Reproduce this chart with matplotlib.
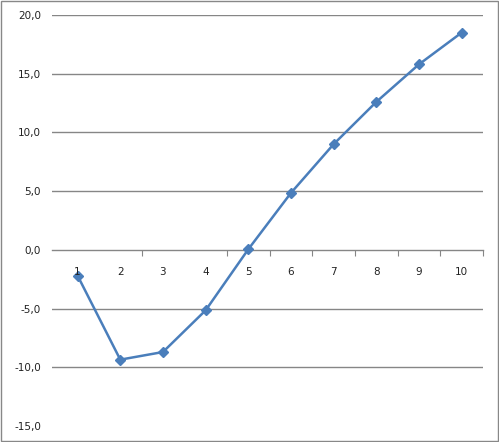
import matplotlib.pyplot as plt
from matplotlib.patches import Rectangle
from matplotlib.ticker import FixedLocator, FuncFormatter

# data
categories = ['1', '2', '3', '4', '5', '6', '7', '8', '9', '10']
values = [-2.2, -9.35, -8.7, -5.15, 0.05, 4.85, 9.0, 12.6, 15.8, 18.5]
y_ticks = [-15, -10, -5, 0, 5, 10, 15, 20]
# tick marks visible on the category axis (boundaries between categories)
x_tick_marks = [2.5, 4.5, 5.5, 6.5, 7.5, 8.5, 9.5, 10.5]

line_color = '#4a7ebb'
grid_color = '#868686'

fig = plt.figure(figsize=(4.99, 4.42), dpi=100)
ax = fig.add_axes([52 / 499, 16 / 442, 431 / 499, 411 / 442])

x = list(range(1, len(categories) + 1))
ax.plot(x, values, color=line_color, linewidth=1.8, marker='D', markersize=5,
        zorder=3, clip_on=False)

ax.set_xlim(0.4, 10.5)
ax.set_ylim(-15, 20)

# horizontal gridlines (none at the bottom value)
for v in y_ticks:
    if v not in (0, -15):
        ax.axhline(v, color=grid_color, linewidth=1, zorder=1)

# y axis: labels only, no spine
ax.set_yticks(y_ticks)
ax.yaxis.set_major_formatter(FuncFormatter(lambda v, p: f'{v:.1f}'.replace('.', ',')))
ax.tick_params(axis='y', length=0, pad=8, labelsize=7.5, labelcolor='#222222')

# x axis crossing at zero
for s in ['left', 'right', 'top']:
    ax.spines[s].set_visible(False)
ax.spines['bottom'].set_position(('data', 0))
ax.spines['bottom'].set_color(grid_color)
ax.spines['bottom'].set_linewidth(1)
ax.xaxis.set_major_locator(FixedLocator(x_tick_marks))
ax.xaxis.set_major_formatter(FuncFormatter(lambda v, p: ''))
ax.xaxis.set_minor_locator(FixedLocator(x))
ax.set_xticklabels(categories, minor=True)
ax.tick_params(axis='x', which='major', length=4, color=grid_color, direction='out')
ax.tick_params(axis='x', which='minor', length=0, pad=12, labelsize=7.5,
               labelcolor='#222222')
ax.xaxis.set_zorder(4)

# outer chart border
fig.patches.append(Rectangle((0.002, 0.002), 0.996, 0.995, transform=fig.transFigure,
                             fill=False, edgecolor='#888888', linewidth=1))

fig.savefig('out.png', dpi=100)
